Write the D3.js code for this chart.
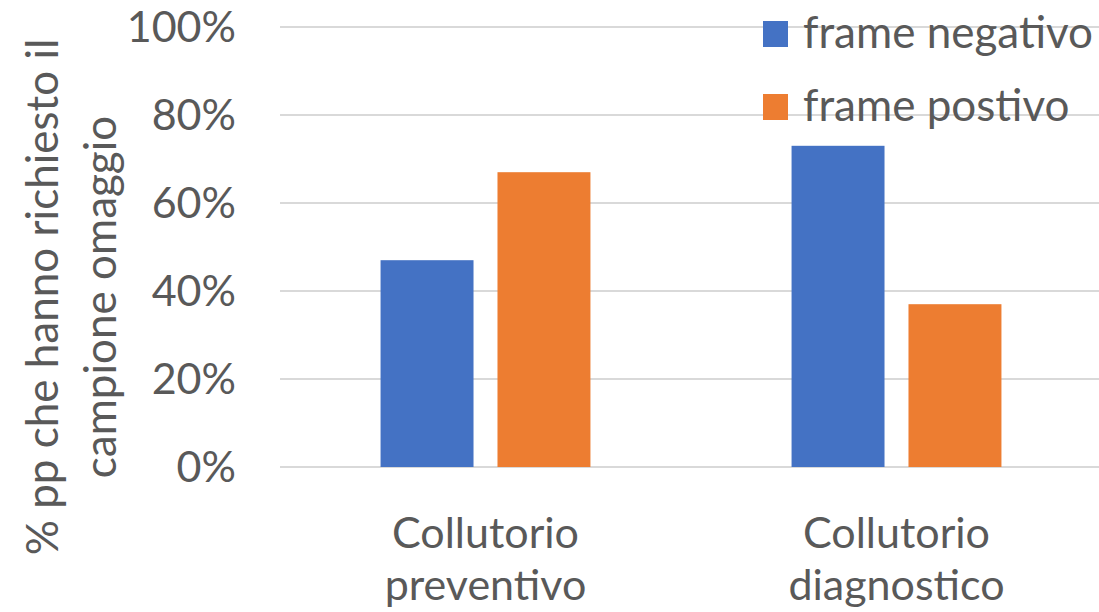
<!DOCTYPE html>
<html>
<head>
<meta charset="utf-8">
<script src="https://cdn.jsdelivr.net/npm/d3@7"></script>
<style>
  body { margin: 0; background: #fff; }
  text { font-family: Lato, "Open Sans", sans-serif; fill: #595959; }
</style>
</head>
<body>
<div id="chart"></div>
<script>
var categories = [["Collutorio", "preventivo"], ["Collutorio", "diagnostico"]];
var seriesNames = ["frame negativo", "frame postivo"];
var negativo = [0.47, 0.73];
var positivo = [0.67, 0.37];
var yTicks = [0, 0.2, 0.4, 0.6, 0.8, 1.0];
var colors = ["#4472C4", "#ED7D31"];

var width = 1099, height = 612;
var margin = { left: 280, right: 0, top: 27, bottom: 145 };

var svg = d3.select("#chart").append("svg")
    .attr("width", width)
    .attr("height", height);

var y = d3.scaleLinear()
    .domain([0, 1])
    .range([height - margin.bottom, margin.top]);

var x0 = d3.scaleBand()
    .domain([0, 1])
    .range([margin.left, 1102])
    .paddingInner(0)
    .paddingOuter(0);

var x1 = d3.scaleBand()
    .domain([0, 1])
    .range([0, x0.bandwidth()])
    .paddingInner(0.205)
    .paddingOuter(0.86);

// gridlines
svg.append("g").selectAll("line")
    .data(yTicks)
    .enter().append("line")
    .attr("x1", margin.left)
    .attr("x2", width)
    .attr("y1", function (d) { return y(d); })
    .attr("y2", function (d) { return y(d); })
    .attr("stroke", "#d9d9d9")
    .attr("stroke-width", 2);

// y tick labels
svg.append("g").selectAll("text")
    .data(yTicks)
    .enter().append("text")
    .attr("x", 236)
    .attr("y", function (d) { return y(d) + 15; })
    .attr("text-anchor", "end")
    .attr("font-size", 43)
    .text(function (d) { return d3.format(".0%")(d); });

// bars
var series = [negativo, positivo];
series.forEach(function (vals, s) {
    svg.append("g").selectAll("rect")
        .data(vals)
        .enter().append("rect")
        .attr("x", function (d, i) { return x0(i) + x1(s); })
        .attr("width", x1.bandwidth())
        .attr("y", function (d) { return y(d); })
        .attr("height", function (d) { return y(0) - y(d); })
        .attr("fill", colors[s]);
});

// x labels
categories.forEach(function (lines, i) {
    var t = svg.append("text")
        .attr("text-anchor", "middle")
        .attr("font-size", 43)
        .attr("x", x0(i) + x0.bandwidth() / 2)
        .attr("y", 548);
    lines.forEach(function (l, k) {
        t.append("tspan")
            .attr("x", x0(i) + x0.bandwidth() / 2)
            .attr("dy", k === 0 ? 0 : 52)
            .text(l);
    });
});

// y axis title
var yt = svg.append("text")
    .attr("transform", "translate(58,297) rotate(-90)")
    .attr("text-anchor", "middle")
    .attr("font-size", 44);
yt.append("tspan").attr("x", 0).attr("dy", 0).text("% pp che hanno richiesto il");
yt.append("tspan").attr("x", 0).attr("dy", 58).text("campione omaggio");

// legend
var legend = svg.append("g").selectAll("g")
    .data(seriesNames)
    .enter().append("g")
    .attr("transform", function (d, i) { return "translate(763," + (21 + i * 73) + ")"; });

legend.append("rect")
    .attr("width", 25)
    .attr("height", 26)
    .attr("fill", function (d, i) { return colors[i]; });

legend.append("text")
    .attr("x", 40)
    .attr("y", 27)
    .attr("font-size", 44)
    .text(function (d) { return d; });
</script>
</body>
</html>
